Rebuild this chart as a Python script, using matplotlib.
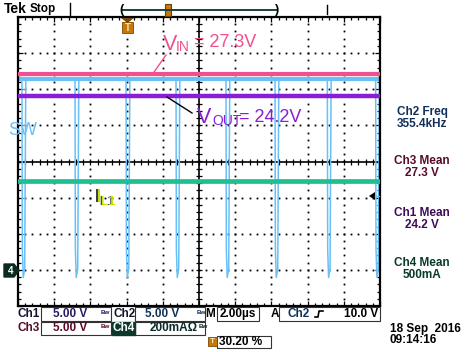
import numpy as np
import matplotlib.pyplot as plt
import matplotlib.patheffects as pe
from matplotlib.patches import Rectangle, Polygon
from matplotlib.ticker import MultipleLocator

plt.rcParams['font.family'] = ['Liberation Sans', 'DejaVu Sans']

# scope settings (per division)
us_per_div = 2.0
volts_per_div = {'ch1': 5.0, 'ch2': 5.0, 'ch3': 5.0, 'ch4': 0.2}
offset_div = -3.03   # all four grounds sit ~3 div below centre

# measured levels
vin = 27.3      # ch3
vout = 24.2     # ch1
il1 = 0.5       # ch4 (A)
sw_high = 26.6  # ch2
# SW node: falling edges (us) and the dip shape
sw_edges = [-9.78, -6.85, -4.03, -1.27, 1.49, 4.20, 7.09, 9.76]
dip_dt = [0.0, 0.02, 0.07, 0.15, 0.21]
dip_v = [26.6, 3.0, -0.9, 0.3, 26.6]

# readouts
meas_labels = ['Ch2 Freq', 'Ch3 Mean', 'Ch1 Mean', 'Ch4 Mean']
meas_values = ['355.4kHz', '27.3 V', '24.2 V', '500mA']

c_vin = '#f0508e'
c_sw = '#68c0f6'
c_vout = '#8a1ed6'
c_il = '#1fc08f'


def to_div(v, ch):
    return np.asarray(v) / volts_per_div[ch] + offset_div


# build SW trace
t = [-10.0]
v = [sw_high]
for e in sw_edges:
    t += [e + d for d in dip_dt]
    v += dip_v
t.append(10.0)
v.append(sw_high)
t = np.array(t)
v = np.array(v)

fig = plt.figure(figsize=(4.68, 3.52), dpi=100)
ax = fig.add_axes([18/468, 1-306/352, 362/468, 289/352])
ax.set_xlim(-5*us_per_div, 5*us_per_div)
ax.set_ylim(-4, 4)

# graticule
for gx in [-8, -6, -4, -2, 2, 4, 6, 8]:
    yy = np.arange(-4, 4.01, 0.2)
    ax.plot(np.full_like(yy, gx), yy, 's', color='black', ms=1.3, mew=0, zorder=1)
for gy in [-3, -2, -1, 1, 2, 3]:
    xx = np.arange(-10, 10.01, 0.4)
    ax.plot(xx, np.full_like(xx, gy), 's', color='black', ms=1.3, mew=0, zorder=1)
ax.axhline(0, color='black', lw=1.2, zorder=1)
ax.axvline(0, color='black', lw=1.2, zorder=1)
xx = np.arange(-10, 10.01, 0.4)
ax.plot(xx, np.zeros_like(xx), '|', color='black', ms=4.5, mew=0.9, zorder=1)
yy = np.arange(-4, 4.01, 0.2)
ax.plot(np.zeros_like(yy), yy, '_', color='black', ms=4.5, mew=0.9, zorder=1)

ax.xaxis.set_major_locator(MultipleLocator(2))
ax.xaxis.set_minor_locator(MultipleLocator(0.4))
ax.yaxis.set_major_locator(MultipleLocator(1))
ax.yaxis.set_minor_locator(MultipleLocator(0.2))
ax.tick_params(which='both', direction='in', top=True, right=True,
               labelbottom=False, labelleft=False, width=0.9)
ax.tick_params(which='major', length=3.5)
ax.tick_params(which='minor', length=2)
for s in ax.spines.values():
    s.set_linewidth(1.6)

# traces
sw_div = to_div(v, 'ch2')
ax.plot(t, sw_div, color=c_sw, lw=1.1, zorder=2)
ax.plot(t, np.where(v >= sw_high - 0.01, sw_div, np.nan), color=c_sw, lw=3, zorder=2)
ax.axhline(to_div(vout, 'ch1'), color=c_vout, lw=3.2, zorder=3)
ax.axhline(to_div(vin, 'ch3'), color=c_vin, lw=3.0, zorder=4)
ax.axhline(to_div(il1, 'ch4'), color=c_il, lw=3.4, zorder=5)

# overlay in pixel coordinates for the screen furniture
ov = fig.add_axes([0, 0, 1, 1])
ov.set_xlim(0, 468)
ov.set_ylim(352, 0)
ov.axis('off')
ov.patch.set_alpha(0)

bold = dict(fontweight='bold', fontsize=8.5)

# top status bar
ov.text(4, 9, 'Tek', va='center', ha='left', fontweight='bold', fontsize=10, color='black')
ov.text(30, 9, 'Stop', va='center', ha='left', fontweight='bold', fontsize=8.5, color='black')
ov.plot([70, 70], [3, 15], color='black', lw=1)
ov.plot([327, 327], [5, 14], color='black', lw=1)
ov.plot([123, 276], [10, 10], color='#1a4040', lw=1.4)
ov.text(121, 10, '(', va='center', ha='center', fontsize=9, fontweight='bold')
ov.text(277, 10, ')', va='center', ha='center', fontsize=9, fontweight='bold')
ov.add_patch(Rectangle((165, 4), 6, 12, facecolor='#c8780a', edgecolor='#6a4000', lw=0.8))
ov.add_patch(Polygon([(121, 18), (134, 18), (127.5, 23)], closed=True, facecolor='#7a4a00', edgecolor='none'))
ov.add_patch(Rectangle((122, 22), 11, 11, facecolor='#c8780a', edgecolor='#7a4a00', lw=0.6))
ov.text(127.5, 27.8, 'T', va='center', ha='center', fontsize=7, fontweight='bold', color='#f8e6b0')

# ch4 ground marker and trigger level marker
ov.add_patch(Polygon([(4, 264), (14, 264), (19, 270.5), (14, 277), (4, 277)], closed=True,
                     facecolor='#0b2a22', edgecolor='#0b2a22'))
ov.text(10.5, 270.8, '4', va='center', ha='center', fontsize=7, fontweight='bold', color='white')
ov.add_patch(Polygon([(369, 196), (375, 192), (375, 200)], closed=True, facecolor='black', edgecolor='none'))
ov.plot([375, 379], [196, 196], color=c_sw, lw=1)

# annotations
ov.text(163, 50, 'V', fontsize=15.5, color=c_vin, va='baseline', ha='left')
ov.text(176, 51, 'IN', fontsize=10, color=c_vin, va='baseline', ha='left')
ov.text(194, 47, '= 27.3V', fontsize=13, color=c_vin, va='baseline', ha='left')
ov.plot([166, 152], [55, 75], color=c_vin, lw=1)

ov.text(197, 123, 'V', fontsize=15.5, color=c_vout, va='baseline', ha='left')
ov.text(212, 125, 'OUT', fontsize=10, color=c_vout, va='baseline', ha='left')
ov.text(239, 122, '= 24.2V', fontsize=13, color=c_vout, va='baseline', ha='left')
ov.plot([167, 192], [97, 113], color='black', lw=1)

ov.text(8, 135, 'SW', fontsize=13, color=c_sw, va='baseline', ha='left', zorder=5)
shadow = [pe.withSimplePatchShadow(offset=(-1, 0), shadow_rgbFace='#2a2a40', alpha=0.9), pe.Normal()]
ov.text(96, 202, 'I', fontsize=14, color='#c4e400', va='baseline', ha='left', path_effects=shadow)
ov.text(101, 205, 'L1', fontsize=9.5, color='#c4e400', va='baseline', ha='left', path_effects=shadow)

# measurement readouts
meas_colors = ['#12305a', '#5a0a2a', '#3e0a5a', '#0a3a2a']
meas_y = [112, 161, 213, 263]
for lab, val, col, y in zip(meas_labels, meas_values, meas_colors, meas_y):
    ov.text(422, y, lab, ha='center', va='center', color=col, **bold)
    ov.text(422, y + 12, val, ha='center', va='center', color=col, **bold)

# bottom settings rows
box = dict(facecolor='white', edgecolor='#333333', lw=0.8)
ov.add_patch(Rectangle((41, 307), 70, 14, **box))
ov.add_patch(Rectangle((135, 307), 70, 14, **box))
ov.add_patch(Rectangle((217, 307), 42, 14, **box))
ov.add_patch(Rectangle((279, 307), 101, 14, **box))
ov.add_patch(Rectangle((41, 322), 70, 13, **box))
ov.add_patch(Rectangle((135, 322), 70, 13, **box))
ov.add_patch(Rectangle((112, 322), 23, 13, facecolor='#0b3a2c', edgecolor='#0b3a2c'))
ov.add_patch(Rectangle((217, 336), 54, 12, **box))
ov.add_patch(Rectangle((208, 337), 9, 9, facecolor='#c8780a', edgecolor='#7a4a00', lw=0.6))
ov.text(212.5, 341.5, 'T', ha='center', va='center', fontsize=6, fontweight='bold', color='#f8e6b0')

ov.text(18, 314, 'Ch1', ha='left', va='center', color='#1a1030', **bold)
ov.text(70, 314, '5.00 V', ha='center', va='center', color='#2a1a60', **bold)
ov.text(105, 313, 'Bw', ha='center', va='center', color='#2a1a60', fontsize=4.5, fontweight='bold')
ov.text(113, 314, 'Ch2', ha='left', va='center', color='#101828', **bold)
ov.text(162, 314, '5.00 V', ha='center', va='center', color='#12305a', **bold)
ov.text(201, 313, 'Bw', ha='center', va='center', color='#12305a', fontsize=4.5, fontweight='bold')
ov.text(210.5, 314, 'M', ha='center', va='center', color='black', **bold)
ov.text(238, 314, '2.00\u00b5s', ha='center', va='center', color='black', **bold)
ov.text(275, 314, 'A', ha='center', va='center', color='black', **bold)
ov.text(299, 314, 'Ch2', ha='center', va='center', color='#12305a', **bold)
ov.plot([315, 318, 319, 323], [317, 317, 311, 311], color='black', lw=1.2)
ov.text(378, 314, '10.0 V', ha='right', va='center', color='black', **bold)

ov.text(18, 328, 'Ch3', ha='left', va='center', color='#5a0a2a', **bold)
ov.text(70, 328, '5.00 V', ha='center', va='center', color='#5a0a2a', **bold)
ov.text(105, 327, 'Bw', ha='center', va='center', color='#5a0a2a', fontsize=4.5, fontweight='bold')
ov.text(123.5, 328, 'Ch4', ha='center', va='center', color='white', **bold)
ov.text(174, 328, '200mA\u03a9', ha='center', va='center', color='#0a2a2a', **bold)
ov.text(203, 327, 'Bw', ha='center', va='center', color='#0a2a2a', fontsize=4.5, fontweight='bold')

ov.text(219, 342, '30.20 %', ha='left', va='center', color='black', **bold)
ov.text(390, 329, '18 Sep  2016', ha='left', va='center', color='black', **bold)
ov.text(390, 340, '09:14:16', ha='left', va='center', color='black', **bold)

fig.savefig('out.png', dpi=100, facecolor='white')
